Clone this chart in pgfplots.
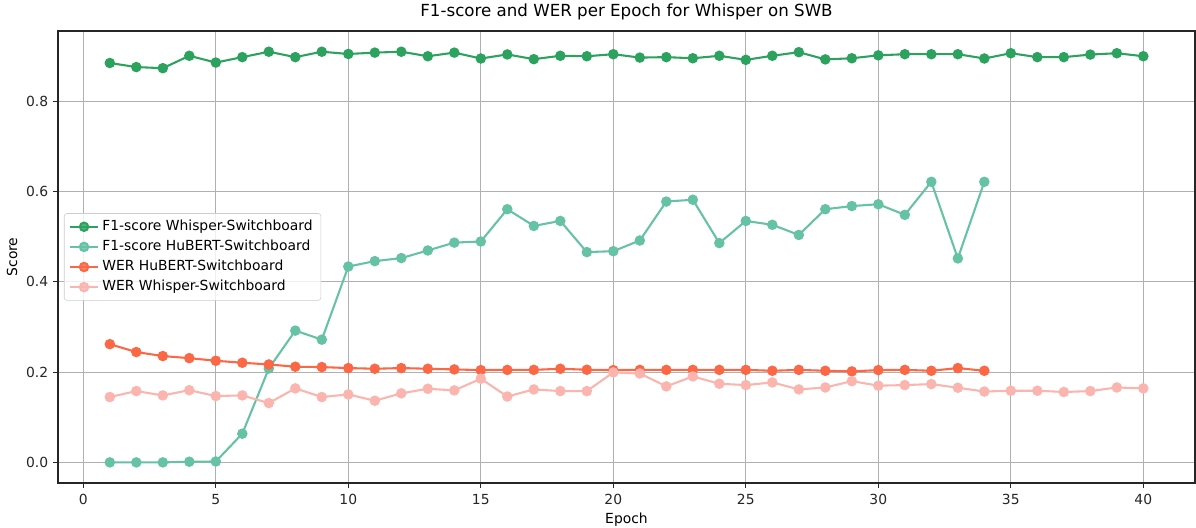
\documentclass[border=0pt]{standalone}
\usepackage{pgfplots}
\pgfplotsset{compat=1.18}
\usepackage{fontspec}
\setmainfont{DejaVu Sans}
\definecolor{cF1W}{HTML}{2CA25F}
\definecolor{cF1H}{HTML}{66C2A4}
\definecolor{cWH}{HTML}{FC6745}
\definecolor{cWW}{HTML}{FBB4AE}
\definecolor{gridc}{HTML}{B0B0B0}
\begin{document}
\begin{tikzpicture}
\begin{axis}[
  scale only axis,
  width=818.64pt, height=325.44pt,
  xmin=-0.955, xmax=41.95, ymin=-0.0456, ymax=0.956,
  xtick={0,5,...,40}, ytick={0,0.2,0.4,0.6,0.8},
  grid=major,
  grid style={color=gridc, line width=0.8pt},
  axis line style={line width=0.8pt, black!85},
  tick pos=left, tick align=outside,
  major tick length=3.5pt,
  every tick/.style={black!85, line width=0.8pt},
  /pgf/number format/assume math mode=true,
  yticklabel style={/pgf/number format/.cd, fixed, fixed zerofill, precision=1},
  tick label style={font=\fontsize{10}{12}\selectfont, color=black!85},
  xticklabel style={yshift=-1pt},
  xlabel={Epoch}, ylabel={Score},
  xlabel style={at={(axis description cs:0.5,0)}, anchor=center, yshift=-26.5pt, font=\fontsize{10}{12}\selectfont},
  ylabel style={at={(axis description cs:0,0.5)}, anchor=center, yshift=33.1pt, font=\fontsize{10}{12}\selectfont},
  every axis title shift=0pt,
  title={F1-score and WER per Epoch for Whisper on SWB},
  title style={at={(axis description cs:0.5,1)}, anchor=center, yshift=13.7pt, font=\fontsize{12}{14}\selectfont},
  legend style={at={(axis description cs:0,0.5)}, anchor=west, xshift=4.3pt,
    draw=black!20, rounded corners=2pt, fill=white, fill opacity=0.8, text opacity=1,
    font=\fontsize{10}{12}\selectfont, inner xsep=3.5pt, inner ysep=2.3pt,
    nodes={text height=7.5pt, text depth=2.2pt, inner sep=2.4pt}},
  legend cell align=left,
  legend image code/.code={\draw[mark repeat=2,mark phase=2] plot coordinates {(0pt,0pt) (10pt,0pt) (20pt,0pt)};},
  every axis plot/.append style={line width=1.5pt, mark=*, mark size=3pt},
]
\addplot[color=cF1W, mark options={fill=cF1W, draw=cF1W}] coordinates {
(1,0.885)(2,0.876)(3,0.8735)(4,0.901)(5,0.886)(6,0.898)(7,0.910)(8,0.898)(9,0.910)(10,0.905)
(11,0.908)(12,0.910)(13,0.900)(14,0.908)(15,0.895)(16,0.904)(17,0.8935)(18,0.901)(19,0.900)(20,0.9045)
(21,0.897)(22,0.898)(23,0.8955)(24,0.901)(25,0.892)(26,0.901)(27,0.909)(28,0.893)(29,0.8955)(30,0.902)
(31,0.9045)(32,0.9045)(33,0.9045)(34,0.895)(35,0.9067)(36,0.898)(37,0.898)(38,0.9037)(39,0.9067)(40,0.900)};
\addlegendentry{F1-score Whisper-Switchboard}
\addplot[color=cF1H, mark options={fill=cF1H, draw=cF1H}] coordinates {
(1,0)(2,0)(3,0)(4,0.0015)(5,0.002)(6,0.0636)(7,0.208)(8,0.292)(9,0.272)(10,0.434)
(11,0.446)(12,0.4527)(13,0.4696)(14,0.487)(15,0.4895)(16,0.561)(17,0.524)(18,0.535)(19,0.466)(20,0.468)
(21,0.4917)(22,0.578)(23,0.582)(24,0.486)(25,0.535)(26,0.5265)(27,0.504)(28,0.561)(29,0.568)(30,0.572)
(31,0.5486)(32,0.6217)(33,0.452)(34,0.6217)};
\addlegendentry{F1-score HuBERT-Switchboard}
\addplot[color=cWH, mark options={fill=cWH, draw=cWH}] coordinates {
(1,0.262)(2,0.2445)(3,0.2356)(4,0.231)(5,0.2252)(6,0.2208)(7,0.217)(8,0.212)(9,0.2112)(10,0.209)
(11,0.2075)(12,0.209)(13,0.2075)(14,0.206)(15,0.2045)(16,0.205)(17,0.205)(18,0.2075)(19,0.2053)(20,0.2045)
(21,0.205)(22,0.205)(23,0.205)(24,0.205)(25,0.205)(26,0.203)(27,0.205)(28,0.203)(29,0.2016)(30,0.2045)
(31,0.205)(32,0.203)(33,0.209)(34,0.203)};
\addlegendentry{WER HuBERT-Switchboard}
\addplot[color=cWW, mark options={fill=cWW, draw=cWW}] coordinates {
(1,0.1448)(2,0.158)(3,0.1484)(4,0.160)(5,0.147)(6,0.1484)(7,0.1315)(8,0.164)(9,0.1448)(10,0.1506)
(11,0.1366)(12,0.153)(13,0.1632)(14,0.1595)(15,0.1854)(16,0.146)(17,0.1617)(18,0.158)(19,0.158)(20,0.1994)
(21,0.197)(22,0.1684)(23,0.1905)(24,0.1743)(25,0.1713)(26,0.1772)(27,0.1617)(28,0.166)(29,0.180)(30,0.170)
(31,0.1713)(32,0.1735)(33,0.1654)(34,0.157)(35,0.1588)(36,0.1588)(37,0.156)(38,0.158)(39,0.166)(40,0.164)};
\addlegendentry{WER Whisper-Switchboard}
\coordinate (sw) at (rel axis cs:0,0);
\coordinate (ne) at (rel axis cs:1,1);
\end{axis}
\pgfresetboundingbox
\path ([shift={(-41.76pt,-32.2pt)}]sw) rectangle ([shift={(0.72pt,22.3pt)}]ne);
\end{tikzpicture}
\end{document}
